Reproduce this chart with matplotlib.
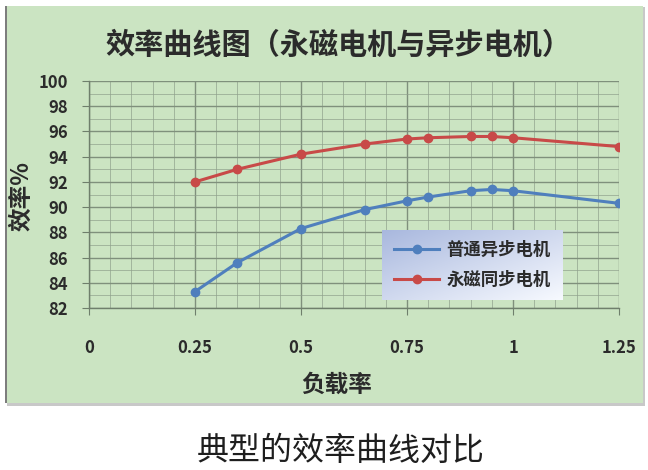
import numpy as np
import matplotlib
matplotlib.use("Agg")
import matplotlib.pyplot as plt
from matplotlib.patches import Rectangle
from matplotlib.ticker import MultipleLocator

load = [0.25, 0.35, 0.5, 0.65, 0.75, 0.8, 0.9, 0.95, 1.0, 1.25]
eff_async = [83.3, 85.6, 88.3, 89.8, 90.5, 90.8, 91.3, 91.4, 91.3, 90.3]
eff_pm = [92.0, 93.0, 94.2, 95.0, 95.4, 95.5, 95.6, 95.6, 95.5, 94.8]
series_names = ["普通异步电机", "永磁同步电机"]
x_ticks = [0, 0.25, 0.5, 0.75, 1, 1.25]
x_tick_labels = ["0", "0.25", "0.5", "0.75", "1", "1.25"]
y_ticks = list(range(82, 101, 2))

plt.rcParams["font.family"] = ["Noto Sans CJK SC", "DejaVu Sans"]
plt.rcParams["axes.unicode_minus"] = False

green = "#cbe4c2"
grid_c = "#8fa08c"
text_c = "#2b2b2b"

fig = plt.figure(figsize=(6.48, 4.70), dpi=100)
fig.patch.set_facecolor("white")

# shadow + green chart panel
fig.patches.append(Rectangle((7 / 648, 1 - 406 / 470), 638 / 648, 399 / 470,
                             transform=fig.transFigure, facecolor="#c8c8c8",
                             edgecolor="none", zorder=-3))
fig.patches.append(Rectangle((5 / 648, 1 - 403 / 470), 638 / 648, 397 / 470,
                             transform=fig.transFigure, facecolor=green,
                             edgecolor="none", zorder=-2))
fig.patches.append(Rectangle((5 / 648, 1 - 403 / 470), 1.5 / 648, 397 / 470,
                             transform=fig.transFigure, facecolor="#7d7d7d",
                             edgecolor="none", zorder=-1))

ax = fig.add_axes([89 / 648, 1 - 308 / 470, 530 / 648, 227 / 470])
ax.set_facecolor(green)
ax.set_xlim(0, 1.25)
ax.set_ylim(82, 100)

ax.xaxis.set_major_locator(MultipleLocator(0.25))
ax.xaxis.set_minor_locator(MultipleLocator(0.05))
ax.yaxis.set_major_locator(MultipleLocator(2))
ax.yaxis.set_minor_locator(MultipleLocator(1))
ax.set_xticks(x_ticks, labels=x_tick_labels)
ax.set_yticks(y_ticks)

ax.grid(True, which="major", color="#7f907c", linewidth=1.0)
ax.grid(True, which="minor", color=grid_c, linewidth=0.6, alpha=0.8)
ax.set_axisbelow(True)

for s in ["top", "right"]:
    ax.spines[s].set_visible(False)
for s in ["left", "bottom"]:
    ax.spines[s].set_color("#6f7f6c")
    ax.spines[s].set_linewidth(1.0)

ax.tick_params(axis="both", which="minor", length=0)
ax.tick_params(axis="x", which="major", direction="out", length=5,
               color="#6f7f6c", pad=17, labelsize=12, labelcolor=text_c)
ax.tick_params(axis="y", which="major", direction="out", length=5,
               color="#6f7f6c", pad=10, labelsize=12, labelcolor=text_c)
for lab in ax.get_xticklabels() + ax.get_yticklabels():
    lab.set_fontweight("bold")

ax.plot(load, eff_async, color="#4f7fbd", linewidth=2.2, marker="o",
        markersize=6, label=series_names[0], zorder=3)
ax.plot(load, eff_pm, color="#c84a48", linewidth=2.2, marker="o",
        markersize=6, label=series_names[1], zorder=3)

# gradient legend background
grad = np.linspace(0, 1, 256)
gx, gy = np.meshgrid(grad, grad)
g = (gx * 0.5 + gy * 0.5)
top = np.array([0.66, 0.72, 0.87])
bot = np.array([0.97, 0.98, 1.0])
img = top[None, None, :] * (1 - g[..., None]) + bot[None, None, :] * g[..., None]
lx0, lx1 = (382 - 89) / 530, (563 - 89) / 530
ly0, ly1 = (308 - 300) / 227, (308 - 230) / 227
ax.imshow(img, extent=[lx0, lx1, ly0, ly1], transform=ax.transAxes,
          origin="upper", aspect="auto", zorder=4)
ax.set_xlim(0, 1.25)
ax.set_ylim(82, 100)

leg = ax.legend(loc="center", bbox_to_anchor=((lx0 + lx1) / 2, (ly0 + ly1) / 2),
                frameon=False, fontsize=12.5, handlelength=2.6,
                labelspacing=0.7, handletextpad=0.4)
leg.set_zorder(5)
for t in leg.get_texts():
    t.set_color(text_c)
    t.set_fontweight("bold")

ax.set_xlabel("负载率", fontsize=17, fontweight="bold", color=text_c)
ax.xaxis.set_label_coords((337 - 89) / 530, -(385 - 308) / 227)
ax.xaxis.label.set_va("center")
ax.set_ylabel("效率%", fontsize=17, fontweight="bold", color=text_c)
ax.yaxis.set_label_coords(-(89 - 21) / 530, (308 - 196) / 227)
ax.yaxis.label.set_va("center")

fig.text(338 / 648, 1 - 45 / 470, "效率曲线图（永磁电机与异步电机）", ha="center",
         va="center", fontsize=21, fontweight="bold", color=text_c)
fig.text(341 / 648, 1 - 451 / 470, "典型的效率曲线对比", ha="center", va="center",
         fontsize=23, color="#1e1e1e")

fig.savefig("out.png", dpi=100)
